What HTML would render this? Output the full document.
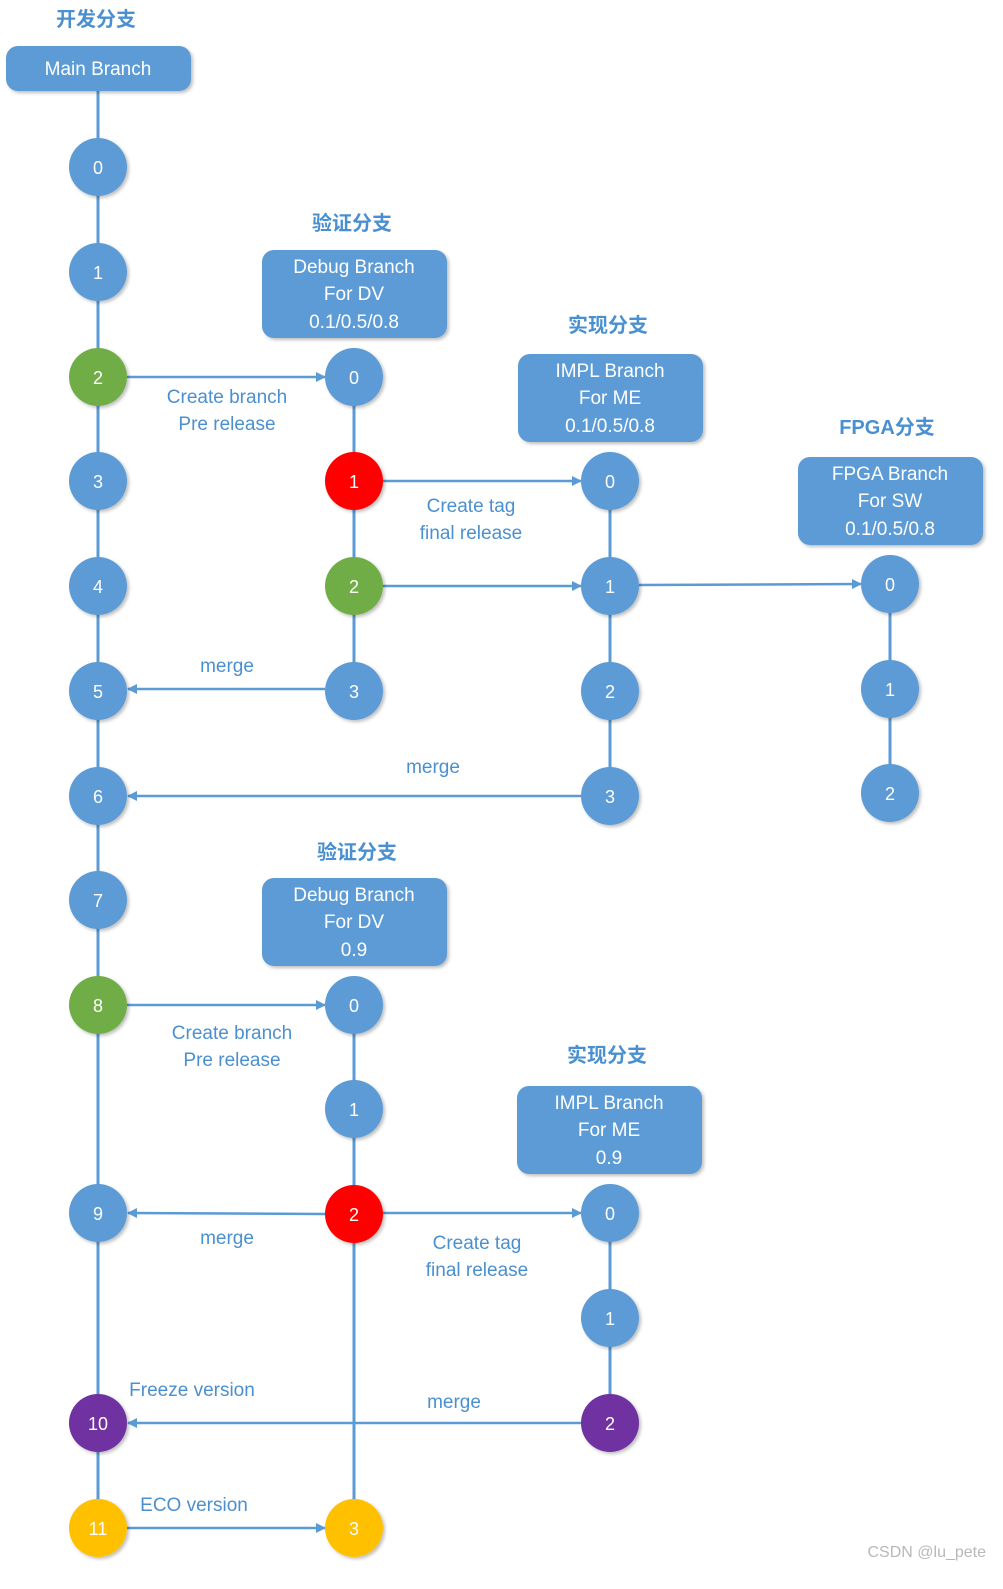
<!DOCTYPE html>
<html><head><meta charset="utf-8"><style>
html,body{margin:0;padding:0;background:#fff;}
svg{display:block;font-family:"Liberation Sans","Noto Sans CJK SC",sans-serif;}
.l{fill:#4a90d0;font-size:19px;}
.t{fill:#4a90d0;font-size:20px;font-weight:bold;}
.b{fill:#fff;font-size:19px;}
.n{fill:#fff;font-size:18px;}
</style></head><body>
<svg width="1003" height="1589" viewBox="0 0 1003 1589" xmlns="http://www.w3.org/2000/svg">
<defs>
<marker id="a" markerWidth="10" markerHeight="10" refX="9" refY="5" orient="auto" markerUnits="userSpaceOnUse"><path d="M0,0 L10,5 L0,10 z" fill="#5b9bd5"/></marker>
<filter id="s" x="-20%" y="-20%" width="150%" height="150%"><feDropShadow dx="2" dy="2" stdDeviation="1.5" flood-color="#000" flood-opacity="0.25"/></filter>
</defs>
<g stroke="#5b9bd5" stroke-width="3" fill="none">
<line x1="98" y1="91" x2="98" y2="1528"/>
<line x1="354" y1="377" x2="354" y2="691"/>
<line x1="354" y1="1005" x2="354" y2="1528"/>
<line x1="610" y1="481" x2="610" y2="796"/>
<line x1="610" y1="1213" x2="610" y2="1423"/>
<line x1="890" y1="584" x2="890" y2="793"/>
</g>
<g stroke="#5b9bd5" stroke-width="2.5" marker-end="url(#a)">
<line x1="127" y1="377" x2="325" y2="377"/>
<line x1="383" y1="481" x2="581" y2="481"/>
<line x1="383" y1="586" x2="581" y2="586"/>
<line x1="639" y1="585" x2="861" y2="584"/>
<line x1="325" y1="689" x2="128" y2="689"/>
<line x1="581" y1="796" x2="128" y2="796"/>
<line x1="127" y1="1005" x2="325" y2="1005"/>
<line x1="325" y1="1214" x2="128" y2="1213"/>
<line x1="383" y1="1213" x2="581" y2="1213"/>
<line x1="581" y1="1423" x2="128" y2="1423"/>
<line x1="127" y1="1528" x2="325" y2="1528"/>
</g>
<g filter="url(#s)">
<rect x="6" y="46" width="185" height="45" rx="12" fill="#5b9bd5"/>
<rect x="262" y="250" width="185" height="88" rx="12" fill="#5b9bd5"/>
<rect x="518" y="354" width="185" height="88" rx="12" fill="#5b9bd5"/>
<rect x="798" y="457" width="185" height="88" rx="12" fill="#5b9bd5"/>
<rect x="262" y="878" width="185" height="88" rx="12" fill="#5b9bd5"/>
<rect x="517" y="1086" width="185" height="88" rx="12" fill="#5b9bd5"/>
</g>
<g class="b" text-anchor="middle">
<text x="98" y="75">Main Branch</text>
<text x="354" y="273">Debug Branch</text><text x="354" y="300">For DV</text><text x="354" y="328">0.1/0.5/0.8</text>
<text x="610" y="377">IMPL Branch</text><text x="610" y="404">For ME</text><text x="610" y="432">0.1/0.5/0.8</text>
<text x="890" y="480">FPGA Branch</text><text x="890" y="507">For SW</text><text x="890" y="535">0.1/0.5/0.8</text>
<text x="354" y="901">Debug Branch</text><text x="354" y="928">For DV</text><text x="354" y="956">0.9</text>
<text x="609" y="1109">IMPL Branch</text><text x="609" y="1136">For ME</text><text x="609" y="1164">0.9</text>
</g>
<g class="t" text-anchor="middle">
<text x="96" y="26">开发分支</text>
<text x="352" y="230">验证分支</text>
<text x="608" y="332">实现分支</text>
<text x="887" y="434">FPGA分支</text>
<text x="357" y="859">验证分支</text>
<text x="607" y="1062">实现分支</text>
</g>
<g class="l" text-anchor="middle">
<text x="227" y="403">Create branch</text><text x="227" y="430">Pre release</text>
<text x="471" y="512">Create tag</text><text x="471" y="539">final release</text>
<text x="227" y="672">merge</text>
<text x="433" y="773">merge</text>
<text x="232" y="1039">Create branch</text><text x="232" y="1066">Pre release</text>
<text x="227" y="1244">merge</text>
<text x="477" y="1249">Create tag</text><text x="477" y="1276">final release</text>
<text x="192" y="1396">Freeze version</text>
<text x="454" y="1408">merge</text>
<text x="194" y="1511">ECO version</text>
</g>
<g filter="url(#s)">
<g fill="#5b9bd5">
<circle cx="98" cy="167" r="29"/><circle cx="98" cy="272" r="29"/><circle cx="98" cy="481" r="29"/><circle cx="98" cy="586" r="29"/><circle cx="98" cy="691" r="29"/><circle cx="98" cy="796" r="29"/><circle cx="98" cy="900" r="29"/><circle cx="98" cy="1213" r="29"/>
<circle cx="354" cy="377" r="29"/><circle cx="354" cy="691" r="29"/><circle cx="354" cy="1005" r="29"/><circle cx="354" cy="1109" r="29"/>
<circle cx="610" cy="481" r="29"/><circle cx="610" cy="586" r="29"/><circle cx="610" cy="691" r="29"/><circle cx="610" cy="796" r="29"/><circle cx="610" cy="1213" r="29"/><circle cx="610" cy="1318" r="29"/>
<circle cx="890" cy="584" r="29"/><circle cx="890" cy="689" r="29"/><circle cx="890" cy="793" r="29"/>
</g>
<circle cx="98" cy="377" r="29" fill="#70ad47"/><circle cx="98" cy="1005" r="29" fill="#70ad47"/><circle cx="354" cy="586" r="29" fill="#70ad47"/>
<circle cx="354" cy="481" r="29" fill="#ff0000"/><circle cx="354" cy="1214" r="29" fill="#ff0000"/>
<circle cx="98" cy="1423" r="29" fill="#7030a0"/><circle cx="610" cy="1423" r="29" fill="#7030a0"/>
<circle cx="98" cy="1528" r="29" fill="#ffc000"/><circle cx="354" cy="1528" r="29" fill="#ffc000"/>
</g>
<g class="n" text-anchor="middle">
<text x="98" y="174">0</text><text x="98" y="279">1</text><text x="98" y="384">2</text><text x="98" y="488">3</text><text x="98" y="593">4</text><text x="98" y="698">5</text><text x="98" y="803">6</text><text x="98" y="907">7</text><text x="98" y="1012">8</text><text x="98" y="1220">9</text><text x="98" y="1430">10</text><text x="98" y="1535">11</text>
<text x="354" y="384">0</text><text x="354" y="488">1</text><text x="354" y="593">2</text><text x="354" y="698">3</text>
<text x="354" y="1012">0</text><text x="354" y="1116">1</text><text x="354" y="1221">2</text><text x="354" y="1535">3</text>
<text x="610" y="488">0</text><text x="610" y="593">1</text><text x="610" y="698">2</text><text x="610" y="803">3</text>
<text x="610" y="1220">0</text><text x="610" y="1325">1</text><text x="610" y="1430">2</text>
<text x="890" y="591">0</text><text x="890" y="696">1</text><text x="890" y="800">2</text>
</g>
<text x="986" y="1557" text-anchor="end" fill="#b8b8b8" font-size="16">CSDN @lu_pete</text>
</svg>
</body></html>
